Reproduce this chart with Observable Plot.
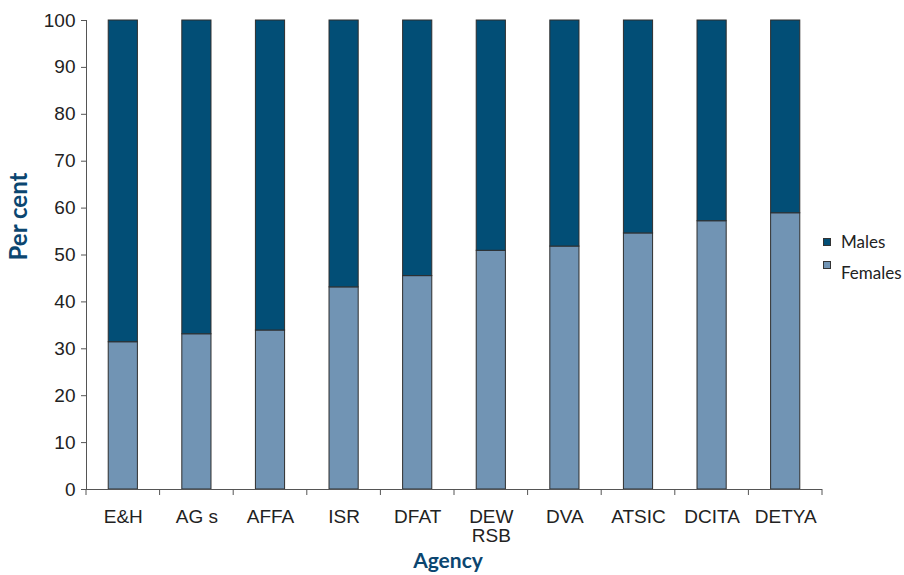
<!DOCTYPE html>
<html>
<head>
<meta charset="utf-8">
<script src="https://cdn.jsdelivr.net/npm/d3@7"></script>
<script src="https://cdn.jsdelivr.net/npm/@observablehq/plot@0.6"></script>
<style>
  html, body { margin: 0; padding: 0; background: #fff; }
  #chart { width: 904px; height: 575px; }
</style>
</head>
<body>
<div id="chart"></div>
<script>
// Share of staff by sex in each agency (per cent)
const agencies = ["E&H", "AG s", "AFFA", "ISR", "DFAT", "DEW\nRSB", "DVA", "ATSIC", "DCITA", "DETYA"];
const females = [31.4, 33.1, 33.9, 43.1, 45.5, 50.9, 51.8, 54.6, 57.2, 58.9];
const males   = [68.6, 66.9, 66.1, 56.9, 54.5, 49.1, 48.2, 45.4, 42.8, 41.1];
const series = ["Males", "Females"];
const seriesColors = ["#024e76", "#7194b4"];
const yTicks = [0, 10, 20, 30, 40, 50, 60, 70, 80, 90, 100];

// Long table: females first so they sit at the bottom of each stack
const rows = [];
agencies.forEach((a, i) => {
  rows.push({agency: a, sex: "Females", value: females[i]});
  rows.push({agency: a, sex: "Males", value: males[i]});
});

const tickFont = "Liberation Sans, Arial, sans-serif";
const titleFont = "Lato, Open Sans, sans-serif";
const titleColor = "#0b4670";
const padInner = 0.59;

const plot = Plot.plot({
  width: 904,
  height: 575,
  marginLeft: 86,
  marginRight: 82,
  marginTop: 20,
  marginBottom: 86,
  style: {fontFamily: tickFont, color: "#222", background: "#fff"},
  x: {domain: agencies, paddingInner: padInner, paddingOuter: padInner / 2, round: false, label: null},
  y: {domain: [0, 100], label: null},
  color: {domain: series, range: seriesColors},
  marks: [
    Plot.barY(rows, {x: "agency", y: "value", fill: "sex", stroke: "#2e2e2e", strokeWidth: 1, insetLeft: 0.5, insetRight: 0.5}),
    Plot.axisY({ticks: yTicks, tickSize: 5, tickPadding: 6, fontSize: 19, fontFamily: tickFont, stroke: "#555", fill: "#222"}),
    Plot.axisX({tickSize: 0, tickPadding: 20, fontSize: 19, fontFamily: tickFont, lineHeight: 1.0, fill: "#222"}),
    Plot.ruleY([0], {stroke: "#555"}),
    Plot.frame({anchor: "left", stroke: "#555"})
  ]
});

document.getElementById("chart").appendChild(plot);

// Category boundary ticks below the x axis, from the band scale
const svg = d3.select(plot);
const xs = plot.scale("x");
const ys = plot.scale("y");
const step = xs.step ?? (xs.bandwidth / (1 - padInner));
const half = (step - xs.bandwidth) / 2;
const y0 = ys.apply(0);
const bounds = agencies.map(a => xs.apply(a) - half);
bounds.push(xs.apply(agencies[agencies.length - 1]) + xs.bandwidth + half);
svg.append("g")
  .attr("stroke", "#555")
  .selectAll("line")
  .data(bounds)
  .join("line")
  .attr("x1", d => d).attr("x2", d => d)
  .attr("y1", y0).attr("y2", y0 + 6);

// Axis titles
const yMid = (ys.apply(0) + ys.apply(100)) / 2;
svg.append("text")
  .attr("transform", `translate(27,${yMid - 38}) rotate(-90)`)
  .attr("text-anchor", "middle")
  .attr("font-family", titleFont)
  .attr("font-weight", "bold")
  .attr("font-size", 24)
  .attr("fill", titleColor)
  .text("Per cent");

const xMid = (bounds[0] + bounds[bounds.length - 1]) / 2;
svg.append("text")
  .attr("x", xMid - 6)
  .attr("y", 568)
  .attr("text-anchor", "middle")
  .attr("font-family", titleFont)
  .attr("font-weight", "bold")
  .attr("font-size", 21)
  .attr("fill", titleColor)
  .text("Agency");

// Legend on the right
const legend = svg.append("g")
  .attr("font-family", titleFont)
  .attr("font-size", 17)
  .attr("text-anchor", "start")
  .attr("fill", "#222");
series.forEach((s, i) => {
  const cy = 242 + i * 31;
  legend.append("rect")
    .attr("x", 823.5).attr("y", cy - 3.5 - (i ? 8 : 0))
    .attr("width", 7).attr("height", 7)
    .attr("fill", seriesColors[i])
    .attr("stroke", "#333").attr("stroke-width", 1);
  legend.append("text")
    .attr("x", 841).attr("y", cy + 6)
    .text(s);
});
</script>
</body>
</html>
